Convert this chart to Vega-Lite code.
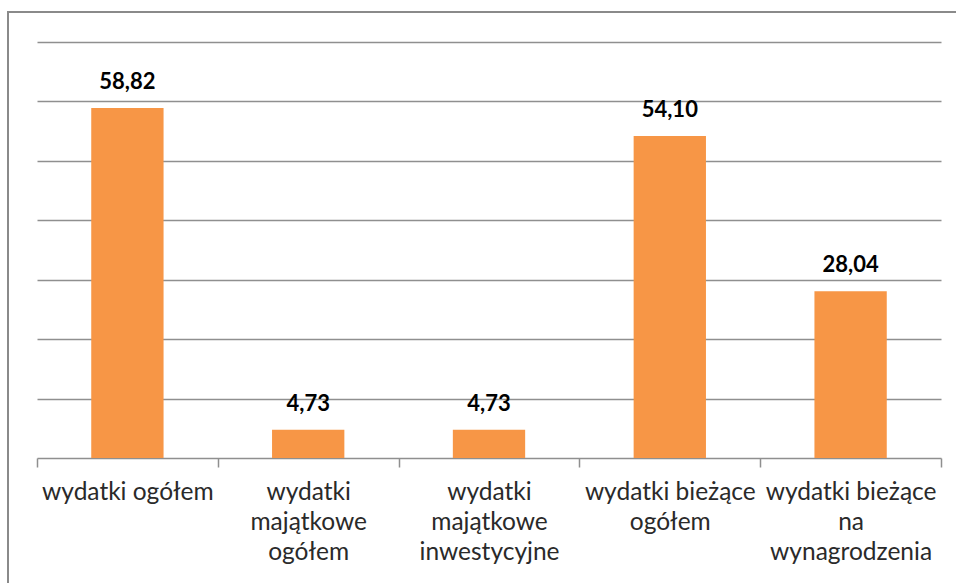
{
  "$schema": "https://vega.github.io/schema/vega-lite/v6.json",
  "width": 950,
  "height": 573,
  "autosize": {"type": "none"},
  "padding": {"left": 8, "top": 12, "right": -2, "bottom": -2},
  "background": "white",
  "config": {
    "view": {"stroke": "#8a8a8a", "strokeWidth": 2},
    "locale": {"number": {"decimal": ",", "thousands": " ", "grouping": [3], "currency": ["", " zł"]}}
  },
  "data": {
    "values": [
      {"kategoria": "wydatki ogółem", "wartosc": 58.82},
      {"kategoria": "wydatki majątkowe ogółem", "wartosc": 4.73},
      {"kategoria": "wydatki majątkowe inwestycyjne", "wartosc": 4.73},
      {"kategoria": "wydatki bieżące ogółem", "wartosc": 54.10},
      {"kategoria": "wydatki bieżące na wynagrodzenia", "wartosc": 28.04}
    ]
  },
  "encoding": {
    "x": {
      "field": "kategoria",
      "type": "nominal",
      "sort": null,
      "scale": {"range": [29, 933], "paddingInner": 0, "paddingOuter": 0},
      "axis": {
        "title": null,
        "orient": "bottom",
        "offset": -127,
        "labelAngle": 0,
        "tickBand": "extent",
        "domainColor": "#8f8f8f",
        "domainWidth": 1.5,
        "tickColor": "#8f8f8f",
        "tickWidth": 1.5,
        "tickSize": 9,
        "labelFont": "Lato",
        "labelFontSize": 24.5,
        "labelColor": "#2a2a2a",
        "labelPadding": 13,
        "labelBaseline": "top",
        "labelLineHeight": 30,
        "labelLimit": 0,
        "labelExpr": "datum.value == 'wydatki majątkowe ogółem' ? ['wydatki','majątkowe','ogółem'] : datum.value == 'wydatki majątkowe inwestycyjne' ? ['wydatki','majątkowe','inwestycyjne'] : datum.value == 'wydatki bieżące ogółem' ? ['wydatki bieżące','ogółem'] : datum.value == 'wydatki bieżące na wynagrodzenia' ? ['wydatki bieżące','na','wynagrodzenia'] : datum.value"
      }
    },
    "y": {
      "field": "wartosc",
      "type": "quantitative",
      "scale": {"domain": [0, 70], "range": [446, 29.5], "nice": false, "zero": true},
      "axis": {
        "title": null,
        "labels": false,
        "ticks": false,
        "domain": false,
        "grid": true,
        "values": [10, 20, 30, 40, 50, 60, 70],
        "gridColor": "#8f8f8f",
        "gridWidth": 1.5
      }
    }
  },
  "layer": [
    {"mark": {"type": "bar", "color": "#F79646", "width": {"band": 0.4}}},
    {
      "mark": {"type": "text", "font": "Lato", "fontWeight": "bold", "fontSize": 22, "color": "#000000", "baseline": "alphabetic", "dy": -19},
      "encoding": {"text": {"field": "wartosc", "type": "quantitative", "format": ".2f"}}
    }
  ]
}
